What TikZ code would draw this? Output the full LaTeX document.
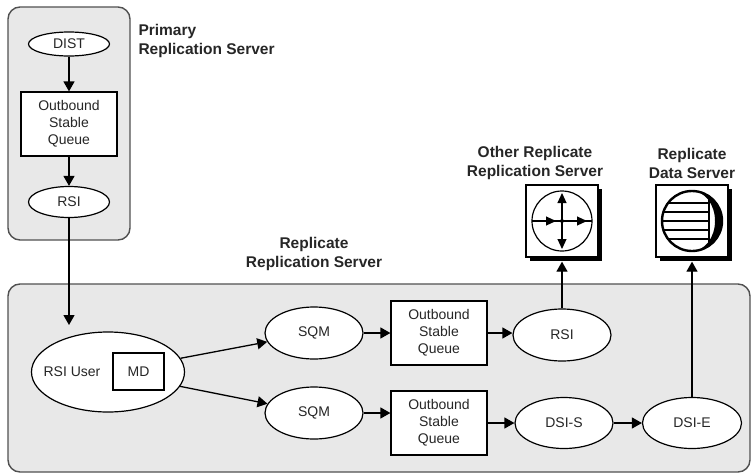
\documentclass[tikz,border=0pt]{standalone}
\usepackage{fontspec}
\setmainfont{Liberation Sans}
\usetikzlibrary{arrows.meta,shapes.geometric,shadows}
\definecolor{panel}{HTML}{E8E8E8}
\definecolor{rim}{HTML}{505050}
\definecolor{ink}{HTML}{262626}
\begin{document}
\begin{tikzpicture}[x=1pt,y=-1pt,
    font=\fontsize{14}{17}\selectfont,
    every node/.style={text=ink},
    proc/.style={ellipse,draw,fill=white,line width=1.2pt,inner sep=0pt},
    queue/.style={rectangle,draw,fill=white,line width=1.2pt,minimum width=96pt,minimum height=64pt,align=center,inner sep=0pt},
    server/.style={rounded corners=12pt,draw=rim,fill=panel,line width=1.4pt},
    title/.style={font=\fontsize{15.5}{19}\selectfont\bfseries,align=center},
    flow/.style={-{Triangle[length=10pt,width=11pt]},line width=1.3pt},
    tip/.style={-{Triangle[length=10pt,width=9pt]},line width=1.1pt},
    icon/.style={rectangle,draw,fill=white,line width=1.3pt,minimum size=72pt,inner sep=0pt,
        general shadow={fill=black,shadow xshift=4pt,shadow yshift=-4pt}}]
    \useasboundingbox (0,0) rectangle (752,474);
    \draw[server] (8,7) rectangle (130,240);
    \draw[server] (8,284) rectangle (750,472);
    \node[title,anchor=west,align=left] (primary) at (135,41) {Primary\\Replication Server};
    \node[title] (replicate) at (314,254) {Replicate\\Replication Server};
    \node[title] (other) at (535,163) {Other Replicate\\Replication Server};
    \node[title] (dataserver) at (692,163) {Replicate\\Data Server};
    \node[proc,minimum width=81pt,minimum height=24pt] (dist) at (69,44) {DIST};
    \node[queue] (osq1) at (69,124) {Outbound\\Stable\\Queue};
    \node[proc,minimum width=81pt,minimum height=31pt] (rsi1) at (69,202) {RSI};
    \coordinate (entry) at (69,325);
    \node[proc,minimum width=153pt,minimum height=80pt] (rsiu) at (108,372) {};
    \node (rsiulabel) at (72,372) {RSI User};
    \node[draw,line width=1.2pt,minimum width=51pt,minimum height=37pt,inner sep=0pt] (md) at (138.5,371.5) {MD};
    \node[proc,minimum width=98pt,minimum height=52pt] (sqm1) at (314,333) {SQM};
    \node[proc,minimum width=98pt,minimum height=52pt] (sqm2) at (314,413) {SQM};
    \node[queue] (osq2) at (439,333) {Outbound\\Stable\\Queue};
    \node[queue] (osq3) at (439,423) {Outbound\\Stable\\Queue};
    \node[proc,minimum width=98pt,minimum height=52pt] (rsi2) at (562,335) {RSI};
    \node[proc,minimum width=98pt,minimum height=51pt] (dsis) at (564,423) {DSI-S};
    \node[proc,minimum width=99pt,minimum height=51pt] (dsie) at (692,423) {DSI-E};
    \node[icon] (router) at (562,221) {};
    \node[icon] (db) at (692,221) {};
    \coordinate (routerin) at ([yshift=-4pt]router.south);
    \coordinate (dbin) at ([yshift=-4pt]db.south);
    \draw[line width=1.2pt] (router.center) circle (30pt);
    \draw[line width=1.1pt] ([shift={(-30,0)}]router.center) -- ([shift={(30,0)}]router.center);
    \draw[tip] (router.center) -- ([shift={(0,-28)}]router.center);
    \draw[tip] (router.center) -- ([shift={(0,28)}]router.center);
    \draw[tip] (router.center) -- ([shift={(25,0)}]router.center);
    \draw[tip] ([shift={(-30,0)}]router.center) -- ([shift={(-6,0)}]router.center);
    \fill (router.center) circle (2pt);
    \begin{scope}
        \clip (db.center) circle (30pt);
        \foreach \dy in {-18,-9,0,9,18}
            \draw[line width=1.1pt] ([shift={(-30,\dy)}]db.center) -- ([shift={(17,\dy)}]db.center);
        \draw[line width=1.1pt] ([shift={(17,-30)}]db.center) -- ([shift={(17,30)}]db.center);
    \end{scope}
    \fill ([shift={(0,-30)}]db.center) arc[start angle=-90,end angle=90,radius=30]
        arc[start angle=90,end angle=-90,x radius=23,y radius=30];
    \draw[line width=2.4pt] (db.center) circle (30pt);
    \draw[flow] (dist) -- (osq1);
    \draw[flow] (osq1) -- (rsi1);
    \draw[flow] (rsi1) -- (entry);
    \draw[flow] (rsiu) -- (sqm1);
    \draw[flow] (rsiu) -- (sqm2);
    \draw[flow] (sqm1) -- (osq2);
    \draw[flow] (sqm2) -- (sqm2 -| osq3.west);
    \draw[flow] (osq2) -- (osq2 -| rsi2.west);
    \draw[flow] (osq3) -- (dsis);
    \draw[flow] (dsis) -- (dsie);
    \draw[flow] (rsi2) -- (routerin);
    \draw[flow] (dsie) -- (dbin);
\end{tikzpicture}
\end{document}
